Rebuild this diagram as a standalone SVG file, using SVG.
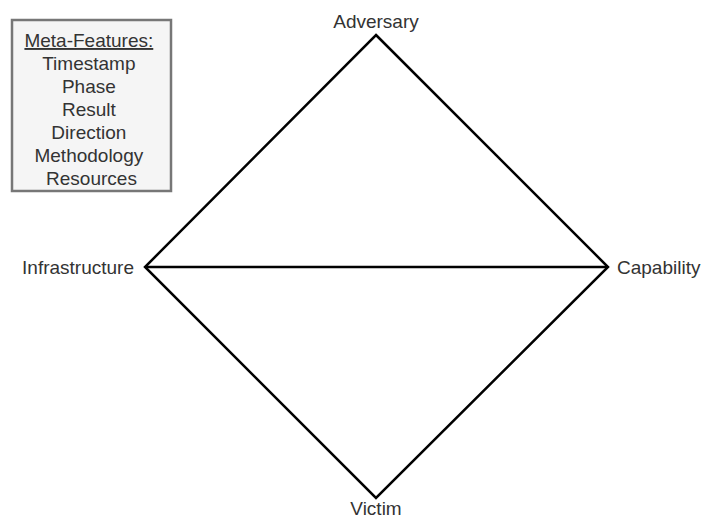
<svg xmlns="http://www.w3.org/2000/svg" width="702" height="521" viewBox="0 0 702 521">
  <style>
    .lbl { font-family: "Liberation Sans", Arial, sans-serif; font-size: 19px; fill: #333333; }
    .edge { stroke: #000000; stroke-width: 2.5; fill: none; stroke-linejoin: miter; }
  </style>
  <rect width="702" height="521" fill="#ffffff"/>

  <!-- meta-features legend box -->
  <g id="meta-features">
    <rect x="12" y="20" width="159" height="171" fill="#f5f5f5" stroke="#777777" stroke-width="2.5"/>
    <text class="lbl" x="91.5" text-anchor="middle">
      <tspan x="91.5" y="47" text-decoration="underline">Meta-Features:</tspan>
      <tspan x="91.5" y="70">Timestamp</tspan>
      <tspan x="91.5" y="93">Phase</tspan>
      <tspan x="91.5" y="116">Result</tspan>
      <tspan x="91.5" y="139">Direction</tspan>
      <tspan x="91.5" y="162">Methodology</tspan>
      <tspan x="91.5" y="185">Resources</tspan>
    </text>
  </g>

  <!-- diamond edges -->
  <g id="connectors">
    <path class="edge" d="M376 35 L608 267 L376 498 L145 267 Z"/>
    <line class="edge" x1="145" y1="267" x2="608" y2="267"/>
  </g>

  <g id="adversary"><text class="lbl" x="376" y="28" text-anchor="middle">Adversary</text></g>
  <g id="infrastructure"><text class="lbl" x="134" y="274" text-anchor="end">Infrastructure</text></g>
  <g id="capability"><text class="lbl" x="617" y="274">Capability</text></g>
  <g id="victim"><text class="lbl" x="376" y="515" text-anchor="middle">Victim</text></g>
</svg>
